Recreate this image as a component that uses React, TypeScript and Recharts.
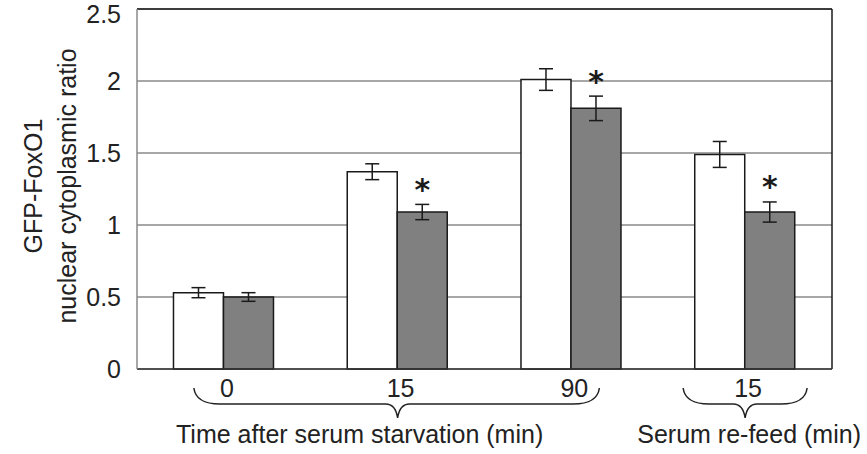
import { Bar, BarChart, CartesianGrid, Customized, ErrorBar, LabelList, XAxis, YAxis } from 'recharts'

const groupLabels = ['0', '15', '90', '15']
const controlValues = [0.53, 1.37, 2.01, 1.49]
const controlErrors = [0.035, 0.055, 0.075, 0.09]
const treatedValues = [0.5, 1.09, 1.81, 1.09]
const treatedErrors = [0.03, 0.053, 0.085, 0.07]
const significant = [false, true, true, true]
const yTicks = [0, 0.5, 1, 1.5, 2, 2.5]
const yTitleLines = ['GFP-FoxO1', 'nuclear cytoplasmic ratio']
const bracketTitles = ['Time after serum starvation (min)', 'Serum re-feed (min)']

const W = 867
const H = 454
const M = { top: 9, right: 35, left: 0, bottom: 55 }
const Y_AXIS_W = 137
const X_AXIS_H = 30
const Y_MAX = 2.5
const FONT = '"Liberation Sans", Arial, sans-serif'
const FS = 25

const plotLeft = M.left + Y_AXIS_W
const plotRight = W - M.right
const plotTop = M.top
const plotBottom = H - M.bottom - X_AXIS_H
const band = (plotRight - plotLeft) / groupLabels.length
const pxPerUnit = (plotBottom - plotTop) / Y_MAX

const data = groupLabels.map((label, i) => ({
  key: `g${i}`,
  label,
  control: controlValues[i],
  controlErr: controlErrors[i],
  treated: treatedValues[i],
  treatedErr: treatedErrors[i],
  sig: significant[i],
}))

const center = (i: number) => plotLeft + band * (i + 0.5)

function brace(x1: number, xm: number, x2: number, yTop: number, yLine: number, yTip: number) {
  const r = 14
  return [
    `M${x1},${yTop}`,
    `Q${x1 + 2},${yLine} ${x1 + r + 12},${yLine}`,
    `L${xm - 12},${yLine}`,
    `Q${xm - 2},${yLine} ${xm},${yTip}`,
    `Q${xm + 2},${yLine} ${xm + 12},${yLine}`,
    `L${x2 - r - 12},${yLine}`,
    `Q${x2 - 2},${yLine} ${x2},${yTop}`,
  ].join(' ')
}

function Decorations() {
  const yMid = (plotTop + plotBottom) / 2
  return (
    <g fontFamily={FONT}>
      {/* frame: top and right edges are darker than the grid */}
      <line x1={plotLeft} y1={plotTop} x2={plotRight} y2={plotTop} stroke="#1a1a1a" strokeWidth={1.5} />
      <line x1={plotRight} y1={plotTop} x2={plotRight} y2={plotBottom} stroke="#1a1a1a" strokeWidth={1.5} />
      {yTitleLines.map((t, i) => (
        <text
          key={t}
          x={0}
          y={0}
          transform={`translate(${33 + i * 34},${yMid - 3}) rotate(-90)`}
          textAnchor="middle"
          dominantBaseline="central"
          fontSize={FS}
          fill="#222"
        >
          {t}
        </text>
      ))}
      <path
        d={brace(center(0) - 30, center(1), center(2) + 28, 388, 404, 418)}
        fill="none"
        stroke="#222"
        strokeWidth={1.5}
      />
      <path
        d={brace(center(3) - 62, center(3), center(3) + 62, 388, 404, 418)}
        fill="none"
        stroke="#222"
        strokeWidth={1.5}
      />
      <text x={center(1) - 38} y={443} textAnchor="middle" fontSize={FS} fill="#222">
        {bracketTitles[0]}
      </text>
      <text x={center(3) + 4} y={443} textAnchor="middle" fontSize={FS} fill="#222">
        {bracketTitles[1]}
      </text>
    </g>
  )
}

function Star(props: any) {
  const { x, y, width, index } = props
  if (!data[index]?.sig) return null
  const errPx = data[index].treatedErr * pxPerUnit
  return (
    <text
      x={x + width / 2}
      y={y - errPx - 15}
      textAnchor="middle"
      dominantBaseline="central"
      fontSize={30}
      fontWeight="bold"
      fontFamily='"DejaVu Sans", sans-serif'
      fill="#1a1a1a"
    >
      *
    </text>
  )
}

export default function App() {
  return (
    <div style={{ position: 'absolute', left: 0, top: 0, background: '#fff' }}>
      <BarChart width={W} height={H} data={data} margin={M} barCategoryGap="21%" barGap={0}>
        <CartesianGrid vertical={false} stroke="#8a8a8a" strokeWidth={1.5} />
        <XAxis
          dataKey="key"
          height={X_AXIS_H}
          tickFormatter={(_v, i) => groupLabels[i]}
          tickLine={false}
          axisLine={{ stroke: '#333', strokeWidth: 1.5 }}
          tick={{ fontSize: FS, fill: '#222', fontFamily: FONT, dx: 3 }}
          tickMargin={4}
          interval={0}
        />
        <YAxis
          width={Y_AXIS_W}
          domain={[0, Y_MAX]}
          ticks={yTicks}
          tickLine={false}
          axisLine={{ stroke: '#8a8a8a', strokeWidth: 1.5 }}
          tick={{ fontSize: FS, fill: '#222', fontFamily: FONT }}
          tickMargin={10}
        />
        <Bar dataKey="control" fill="#ffffff" stroke="#1a1a1a" strokeWidth={1.5} isAnimationActive={false}>
          <ErrorBar dataKey="controlErr" width={7} stroke="#1a1a1a" strokeWidth={1.5} />
        </Bar>
        <Bar dataKey="treated" fill="#808080" stroke="#1a1a1a" strokeWidth={1.5} isAnimationActive={false}>
          <ErrorBar dataKey="treatedErr" width={7} stroke="#1a1a1a" strokeWidth={1.5} />
          <LabelList dataKey="treated" content={Star} />
        </Bar>
        <Customized component={Decorations} />
      </BarChart>
    </div>
  )
}
